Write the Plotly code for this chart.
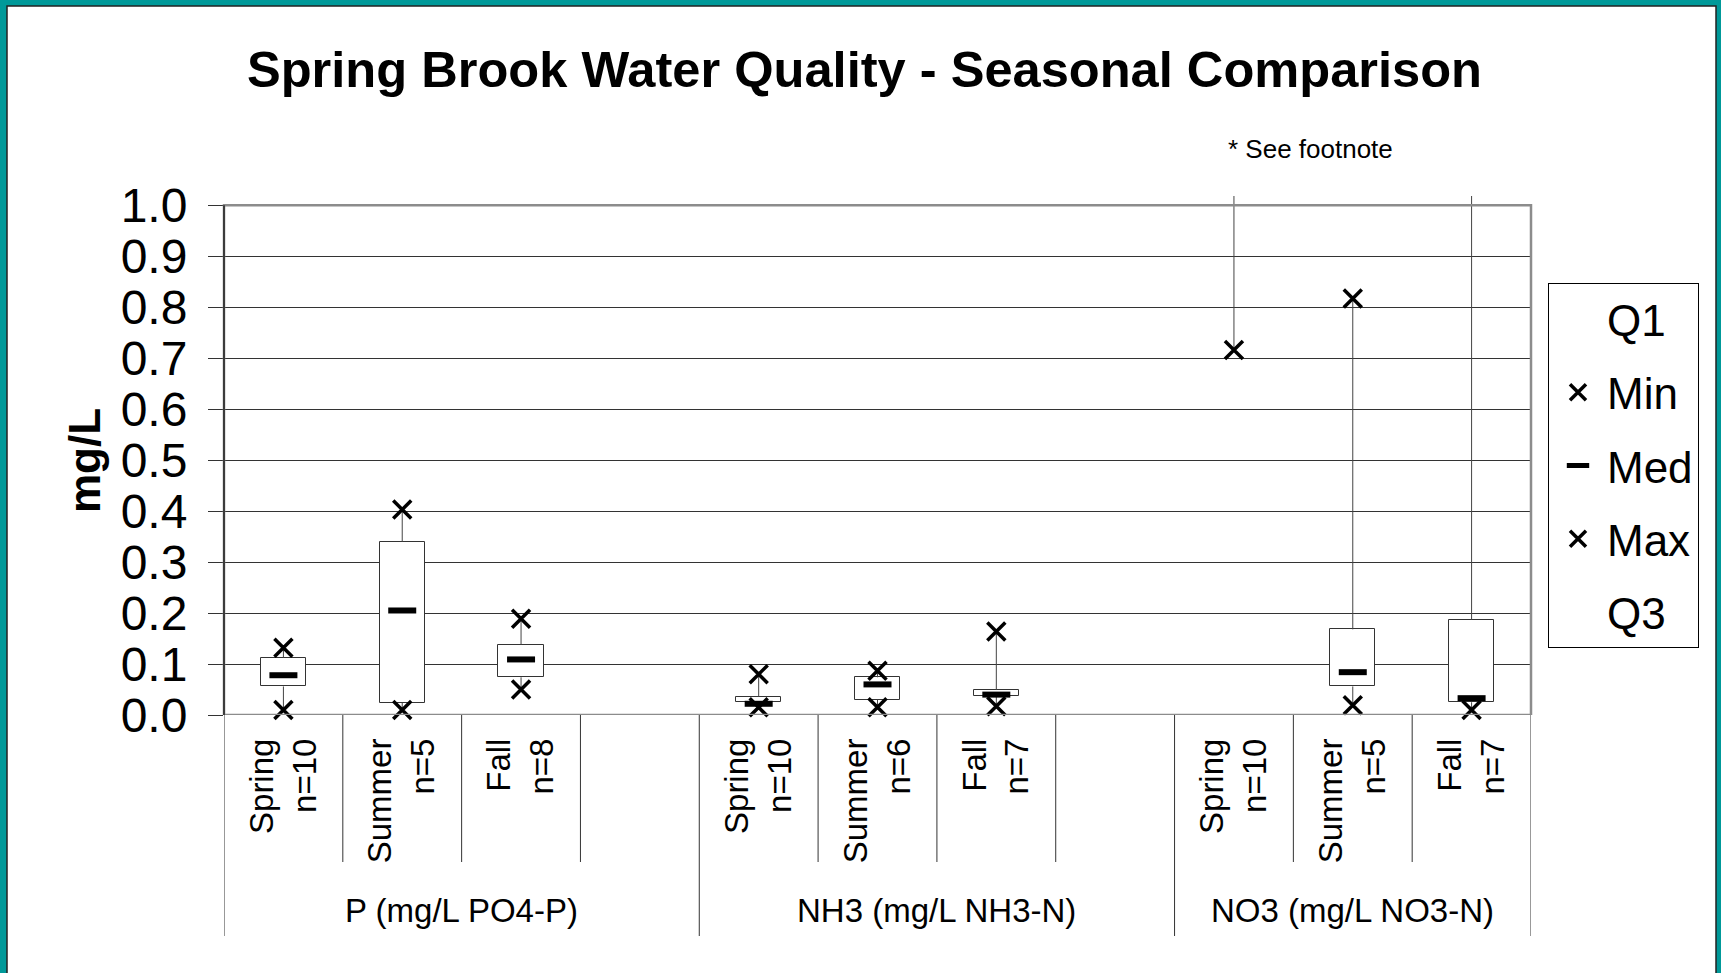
import plotly.graph_objects as go

# Seasonal summary statistics (mg/L) per parameter.
GROUPS = ["P (mg/L PO4-P)", "NH3 (mg/L NH3-N)", "NO3 (mg/L NO3-N)"]
SEASONS = ["Spring", "Summer", "Fall"]
N_SAMPLES = [[10, 5, 8], [10, 6, 7], [10, 5, 7]]

MIN_VALS = [[0.010, 0.010, 0.050], [0.015, 0.015, 0.017], [0.716, 0.019, 0.010]]
Q1_VALS = [[0.056, 0.024, 0.074], [0.025, 0.030, 0.037], [1.20, 0.056, 0.025]]
MED_VALS = [[0.078, 0.205, 0.109], [0.022, 0.060, 0.040], [1.50, 0.084, 0.033]]
Q3_VALS = [[0.112, 0.340, 0.138], [0.036, 0.074, 0.049], [1.90, 0.168, 0.187]]
MAX_VALS = [[0.132, 0.403, 0.189], [0.080, 0.087, 0.164], [2.60, 0.817, 1.30]]

FONT = "Arial, Liberation Sans, sans-serif"
TEAL = "#009999"
INK = "#000000"
GRID = "#333333"
FRAME = "#8c8c8c"

W, H = 1721, 973
L, R, T, B = 224, 190, 196, 258
PW, PH = W - L - R, H - T - B


def px_x(p):
    return (p - L) / PW


def px_y(p):
    return (H - B - p) / PH


# slot layout: each group gets a trailing empty slot except the last one
slot_starts, pos = [], 0
for g in range(len(GROUPS)):
    slot_starts.append(pos)
    pos += len(SEASONS) + (1 if g < len(GROUPS) - 1 else 0)
n_slots = pos

xs, mins, q1s, meds, q3s, maxs, labels = [], [], [], [], [], [], []
for g in range(len(GROUPS)):
    for s, season in enumerate(SEASONS):
        xs.append(slot_starts[g] + s)
        mins.append(MIN_VALS[g][s])
        q1s.append(Q1_VALS[g][s])
        meds.append(MED_VALS[g][s])
        q3s.append(Q3_VALS[g][s])
        maxs.append(MAX_VALS[g][s])
        labels.append(f"{season}<br>n={N_SAMPLES[g][s]}")

wx, wy = [], []
for x, lo, a, b, hi in zip(xs, mins, q1s, q3s, maxs):
    wx += [x, x, None, x, x, None]
    wy += [lo, a, None, b, hi, None]

xmark = dict(symbol="x-thin", size=18, line=dict(color=INK, width=3.5))

fig = go.Figure()
fig.add_trace(go.Scatter(x=wx, y=wy, mode="lines", line=dict(color="#444444", width=1),
                         showlegend=False, hoverinfo="skip"))
fig.add_trace(go.Bar(x=xs, base=q1s, y=[b - a for a, b in zip(q1s, q3s)], width=0.38,
                     marker=dict(color="white", line=dict(color="#333333", width=1)),
                     showlegend=False))
fig.add_trace(go.Scatter(x=xs, y=q1s, name="Q1", legendgroup="q1", mode="markers",
                         marker=dict(color="rgba(0,0,0,0)", size=1)))
fig.add_trace(go.Scatter(x=xs, y=mins, name="Min", legendgroup="min", mode="markers",
                         cliponaxis=False, marker=xmark))
fig.add_trace(go.Scatter(x=xs, y=meds, name="Med", legendgroup="med", mode="markers",
                         cliponaxis=False,
                         marker=dict(symbol="line-ew", size=20, line=dict(color=INK, width=6))))
fig.add_trace(go.Scatter(x=xs, y=maxs, name="Max", legendgroup="max", mode="markers",
                         cliponaxis=False, marker=xmark))
fig.add_trace(go.Scatter(x=xs, y=q3s, name="Q3", legendgroup="q3", mode="markers",
                         marker=dict(color="rgba(0,0,0,0)", size=1)))

shapes = [
    # teal slide border with white card
    dict(type="rect", xref="paper", yref="paper", layer="below",
         x0=px_x(7), x1=px_x(1716), y0=px_y(H + 20), y1=px_y(6),
         fillcolor="white", line=dict(color="#222222", width=1.5)),
    # plot frame at the 1.0 level
    dict(type="rect", xref="paper", yref="y", x0=0, x1=1, y0=0, y1=1.0,
         line=dict(color=FRAME, width=2.5)),
    dict(type="line", xref="paper", yref="y", x0=0, x1=0, y0=0, y1=1.0,
         line=dict(color="#222222", width=1.5)),
]
# category separators below the axis: long at group edges, short elsewhere
group_edges = set(st - 0.5 for st in slot_starts) | {n_slots - 0.5}
for k in range(n_slots + 1):
    edge = k - 0.5
    depth = 936 if edge in group_edges else 862
    shapes.append(dict(type="line", xref="x", yref="paper", x0=edge, x1=edge,
                       y0=0, y1=px_y(depth), line=dict(color="#333333", width=1)))

annotations = [
    dict(text="mg/L", xref="paper", yref="paper", x=px_x(84), y=px_y(461), textangle=-90,
         xanchor="center", yanchor="middle", showarrow=False,
         font=dict(size=44, color=INK, family=FONT, weight="bold")),
    dict(text="* See footnote", xref="paper", yref="paper", x=px_x(1226), y=px_y(149),
         xanchor="left", yanchor="middle", showarrow=False,
         font=dict(size=26, color=INK, family=FONT)),
]
for g, name in enumerate(GROUPS):
    last = slot_starts[g + 1] - 1 if g + 1 < len(GROUPS) else n_slots - 1
    annotations.append(dict(text=name, xref="x", yref="paper", x=(slot_starts[g] + last) / 2,
                            y=px_y(910), xanchor="center", yanchor="middle", showarrow=False,
                            font=dict(size=33, color=INK, family=FONT)))

fig.update_layout(
    width=W, height=H,
    margin=dict(l=L, r=R, t=T, b=B),
    paper_bgcolor=TEAL, plot_bgcolor="white",
    font=dict(family=FONT, color=INK),
    title=dict(text="<b>Spring Brook Water Quality - Seasonal Comparison</b>",
               x=864.5 / W, xanchor="center", y=1 - 69 / H, yanchor="middle",
               font=dict(size=50.6, color=INK, family=FONT)),
    showlegend=True,
    legend=dict(x=px_x(1548), y=px_y(283), xanchor="left", yanchor="top",
                bgcolor="white", bordercolor=INK, borderwidth=1, itemwidth=48,
                traceorder="grouped", tracegroupgap=13,
                font=dict(size=44, color=INK, family=FONT)),
    shapes=shapes, annotations=annotations,
    bargap=0,
)
fig.update_xaxes(range=[-0.5, n_slots - 0.5], tickvals=xs, ticktext=labels, tickangle=-90,
                 tickfont=dict(size=33, color=INK, family=FONT), showgrid=False,
                 zeroline=False, showline=False, ticks="", ticklabelstandoff=16)
fig.update_yaxes(range=[0, 1.018], tickvals=[i / 10 for i in range(11)],
                 ticktext=[f"{i / 10:.1f}" for i in range(11)],
                 tickfont=dict(size=48, color=INK, family=FONT), ticklabelstandoff=11,
                 showgrid=True, gridcolor=GRID, gridwidth=1, zeroline=False, showline=False,
                 ticks="outside", ticklen=15, tickcolor="#333333", tickwidth=1)

fig.write_html("out.html", config={"displayModeBar": False},
               post_script="document.body.style.margin = '0';")
